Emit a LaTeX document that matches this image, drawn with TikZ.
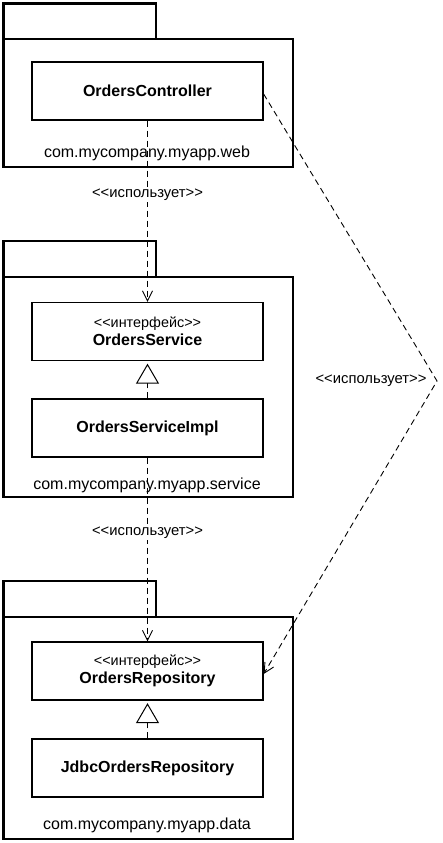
\documentclass[tikz,border=0pt]{standalone}
\usepackage{fontspec}
\setmainfont{Liberation Sans}
\usetikzlibrary{arrows.meta}
\newcommand{\lguil}{<{}<}
\newcommand{\rguil}{>{}>}
\begin{document}
\begin{tikzpicture}[x=1pt,y=-1pt,
  pkg/.style={draw, line width=2.8pt},
  pkgtab/.style={draw, line width=2.5pt},
  cls/.style={draw, line width=1.3pt, fill=white, minimum width=231pt, minimum height=58pt, inner sep=0pt, align=center},
  clsname/.style={font=\bfseries\fontsize{16}{19}\selectfont},
  pkglabel/.style={inner sep=1pt, font=\fontsize{16}{19}\selectfont},
  lbl/.style={fill=white, inner sep=1.5pt, font=\fontsize{14.8}{17}\selectfont},
  dashline/.style={line width=0.9pt, dash pattern=on 6pt off 4pt},
  uses/.style={dashline, -{Straight Barb[length=10pt,width=10pt,line width=0.9pt]}},
  realize/.style={dashline, shorten >=2.5pt, -{Triangle[open,length=20pt,width=23pt,line width=1pt,fill=white]}}
]
\useasboundingbox (0,0) rectangle (442,843);
% packages
\draw[pkgtab] (3.5,3.5) rectangle (156,39);
\draw[pkg] (3.5,39) rectangle (293,167);
\draw[pkgtab] (3.5,241) rectangle (156,277);
\draw[pkg] (3.5,277) rectangle (293,497);
\draw[pkgtab] (3.5,581) rectangle (156,617);
\draw[pkg] (3.5,617) rectangle (293,839);
\node[pkglabel] (webl) at (147,153) {com.mycompany.myapp.web};
\node[pkglabel] (servl) at (147,485) {com.mycompany.myapp.service};
\node[pkglabel] (datal) at (147,825) {com.mycompany.myapp.data};
% classes
\node[cls, clsname] (ctrl) at (147.5,91) {OrdersController};
\node[cls] (svc) at (147.5,331.5) {{\fontsize{14.4}{16}\selectfont \lguil интерфейс\rguil}\\[2pt]{\bfseries\fontsize{16}{19}\selectfont OrdersService}};
\node[cls, clsname] (impl) at (147.5,428) {OrdersServiceImpl};
\node[cls] (repo) at (147.5,671) {{\fontsize{14.4}{16}\selectfont \lguil интерфейс\rguil}\\[2pt]{\bfseries\fontsize{16}{19}\selectfont OrdersRepository}};
\node[cls, clsname] (jdbc) at (147.5,768) {JdbcOrdersRepository};
% connectors
\coordinate (apex) at (437,381);
\draw[uses] (ctrl.south) -- node[lbl, pos=0.41] (u1) {\lguil использует\rguil} (svc.north);
\draw[uses] (impl.south) -- node[lbl, pos=0.41] (u2) {\lguil использует\rguil} (repo.north);
\draw[realize] (impl.north) -- (svc.south);
\draw[realize] (jdbc.north) -- (repo.south);
\draw[uses] ([yshift=-3pt]ctrl.east) -- (apex) -- ([yshift=-3pt]repo.east);
\node[lbl, fill=none] (u3) at (371,381) {\lguil использует\rguil};
\end{tikzpicture}
\end{document}
